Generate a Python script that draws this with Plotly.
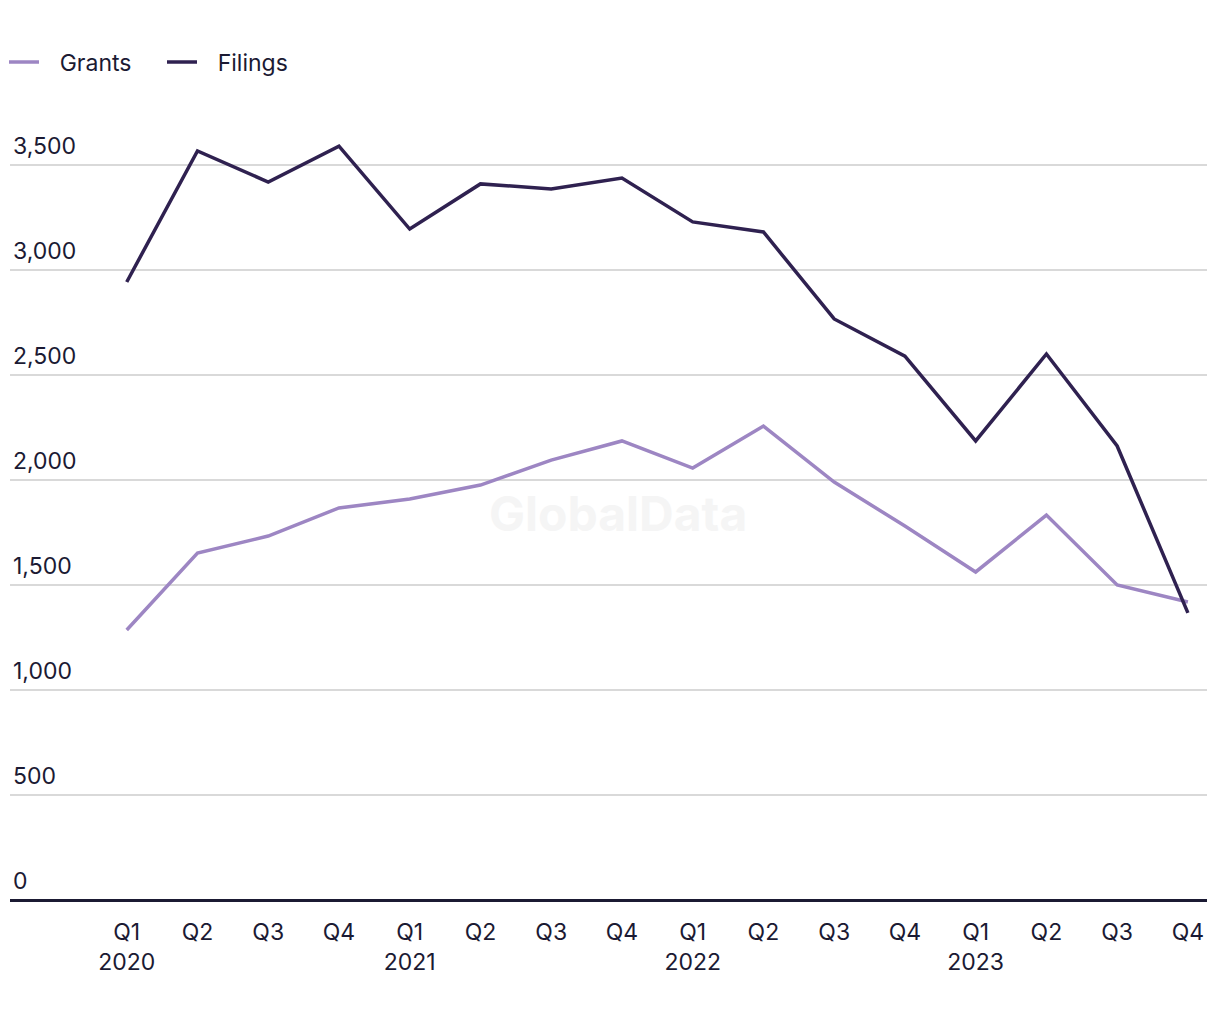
import plotly.graph_objects as go

quarters = ["Q1", "Q2", "Q3", "Q4"] * 4
years = ["2020", "", "", "", "2021", "", "", "", "2022", "", "", "", "2023", "", "", ""]
tick_labels = [q + ("<br>" + y if y else "") for q, y in zip(quarters, years)]
categories = [f"{q} {2020 + i // 4}" for i, q in enumerate(quarters)]

grants = [1286, 1652, 1733, 1867, 1910, 1976, 2095, 2186, 2057, 2257, 1990, 1781, 1562, 1833, 1500, 1419]
filings = [2943, 3567, 3419, 3590, 3195, 3410, 3386, 3438, 3229, 3181, 2767, 2590, 2186, 2600, 2162, 1367]

y_ticks = [0, 500, 1000, 1500, 2000, 2500, 3000, 3500]

font_family = "Inter, Liberation Sans, sans-serif"
text_color = "#1b1a33"
pad = "\u2002\u2009"

fig = go.Figure()
fig.add_trace(go.Scatter(x=list(range(len(categories))), y=grants, name=pad + "Grants", mode="lines",
                         line=dict(color="#9d86c3", width=3.5)))
fig.add_trace(go.Scatter(x=list(range(len(categories))), y=filings, name=pad + "Filings", mode="lines",
                         line=dict(color="#2f2150", width=3.5)))

fig.add_annotation(text="GlobalData", xref="paper", yref="paper", x=0.508, y=0.498,
                   showarrow=False, font=dict(family=font_family, size=48, color="#f5f5f5", weight="bold"))

fig.update_layout(
    width=1220, height=1020,
    margin=dict(l=10, r=13, t=123, b=120),
    paper_bgcolor="white", plot_bgcolor="white",
    font=dict(family=font_family, size=23, color=text_color),
    showlegend=True,
    legend=dict(orientation="h", xref="container", yref="container", x=4 / 1220, xanchor="left",
                y=1 - 62 / 1020, yanchor="middle",
                font=dict(size=23, color=text_color), entrywidth=113, entrywidthmode="pixels",
                traceorder="normal"),
    xaxis=dict(tickmode="array", tickvals=list(range(len(categories))), ticktext=tick_labels,
               range=[-1.65, 15.27], showgrid=False, zeroline=False, showline=False,
               ticks="", ticklabelstandoff=16, tickfont=dict(size=23, color=text_color)),
    yaxis=dict(range=[0, 3700], tickmode="array", tickvals=y_ticks,
               ticktext=[f"{v:,}" for v in y_ticks], ticklabelposition="inside top",
               ticklabelshift=-3,
               showgrid=True, gridcolor="#d9d9d9", gridwidth=1.5, zeroline=True,
               zerolinecolor="#1b1a33", zerolinewidth=2.5, showline=False, ticks="",
               tickfont=dict(size=23, color=text_color)),
)

fig.write_html("out.html", config={"displayModeBar": False})

with open("out.html", "r", encoding="utf-8") as f:
    html = f.read()
html = html.replace("<head>", "<head><style>html,body{margin:0;padding:0;}</style>", 1)
with open("out.html", "w", encoding="utf-8") as f:
    f.write(html)
